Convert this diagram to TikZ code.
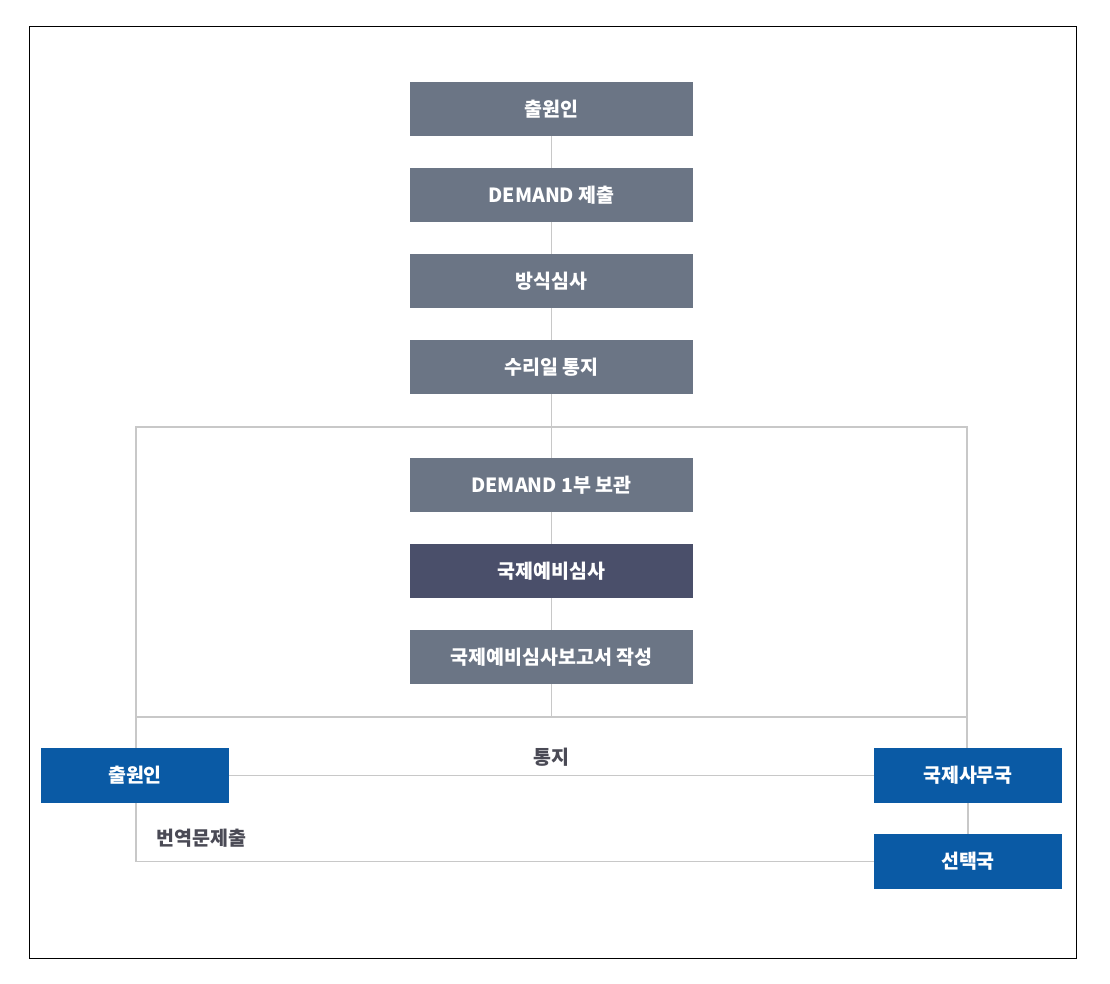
\documentclass[tikz,border=0pt]{standalone}
\usepackage{fontspec}
\setmainfont{Noto Sans CJK KR}
\usetikzlibrary{backgrounds}
\definecolor{stepgray}{HTML}{6B7585}
\definecolor{stepdark}{HTML}{4A4F6A}
\definecolor{stepblue}{HTML}{0A5AA5}
\definecolor{linegray}{HTML}{C8C8C8}
\definecolor{textgray}{HTML}{4A4A55}
\begin{document}
\begin{tikzpicture}[x=1pt,y=-1pt]
		\tikzset{stepbox/.style = {shape=rectangle, fill=stepgray, text=white, font=\fontsize{19.5}{22}\selectfont\bfseries, minimum width=283pt, minimum height=54pt, inner sep=0pt}}
		\tikzset{bluebox/.style = {stepbox, fill=stepblue, minimum width=188pt, minimum height=55pt}}
		\tikzset{link/.style = {draw=linegray, line width=1.5pt}}
		\tikzset{note/.style = {text=textgray, font=\fontsize{19.5}{22}\selectfont\bfseries}}

		\useasboundingbox (0,0) rectangle (1110,984);
		\draw[line width=1pt] (29,27) rectangle (1076,958);

		\coordinate (fr-nw) at (136,427);
		\coordinate (fr-se) at (967,717);

		\node[stepbox] (app) at (551.5,109) {출원인};
		\node[stepbox] (dem) at (551.5,195) {DEMAND 제출};
		\node[stepbox] (form) at (551.5,281) {방식심사};
		\node[stepbox] (recv) at (551.5,367) {수리일 통지};
		\node[stepbox] (keep) at (551.5,485) {DEMAND 1부 보관};
		\node[stepbox, fill=stepdark] (exam) at (551.5,571) {국제예비심사};
		\node[stepbox] (rep) at (551.5,657) {국제예비심사보고서 작성};

		\node[bluebox] (app2) at (135,775.5) {출원인};
		\node[bluebox] (ib) at (968,775.5) {국제사무국};
		\node[bluebox] (sel) at (968,861.5) {선택국};

		\node[note, anchor=west] (trans) at (153,838) {번역문제출};

		\begin{pgfonlayer}{background}
		\draw[link] (fr-nw) rectangle (fr-se);
		\draw[link] (app) -- (dem);
		\draw[link] (dem) -- (form);
		\draw[link] (form) -- (recv);
		\draw[link] (recv) -- (keep);
		\draw[link] (keep) -- (exam);
		\draw[link] (exam) -- (rep);
		\draw[link] (rep) -- (rep |- fr-se);

		\draw[link] (fr-se) -- (fr-se |- ib.north);
		\draw[link] (ib) -- (sel);
		\draw[link] (app2) -- node[note, above=5pt] {통지} (ib);
		\draw[link] (fr-nw |- fr-se) -- (fr-nw |- sel) -- (sel);
		\end{pgfonlayer}

	\end{tikzpicture}
\end{document}
